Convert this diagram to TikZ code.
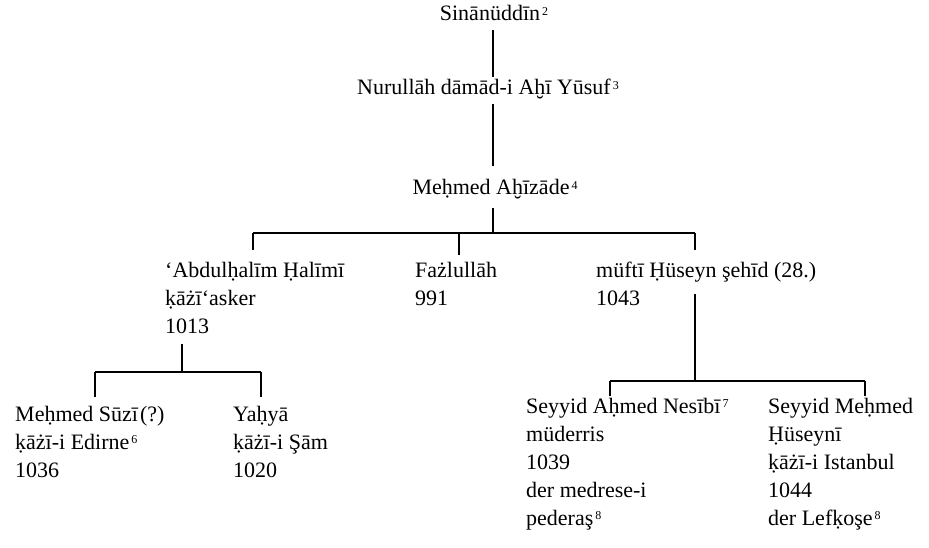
\documentclass[tikz,border=0pt]{standalone}
\usepackage{fontspec}
\setmainfont{Liberation Serif}
\newcommand\fnm[1]{\kern2pt\raisebox{5.5pt}{\fontsize{12}{12}\selectfont #1}}
\newcommand\fst{\rule{0pt}{16pt}}
\tikzset{
  person/.style={anchor=north west, inner sep=0pt, align=left, font=\fontsize{22}{28}\selectfont},
  head/.style={anchor=base, inner sep=0pt, font=\fontsize{22}{28}\selectfont},
  link/.style={line width=1.1pt, black}
}
\begin{document}
\begin{tikzpicture}[x=1pt,y=-1pt]
\useasboundingbox (0,0) rectangle (929,548);
% top chain
\node[head] (sin) at (494,21) {Sinānüddīn\fnm{2}};
\node[head] (nur) at (488,95) {Nurullāh dāmād-i Aḫī Yūsuf\fnm{3}};
\node[head] (meh) at (495,195) {Meḥmed Aḫīzāde\fnm{4}};
\coordinate (c0) at (493,0);
\coordinate (j1) at (493,233);
\draw[link, shorten <=9pt, shorten >=2pt] (sin.south -| c0) -- (nur.north -| c0);
\draw[link, shorten <=4pt, shorten >=14pt] (nur.south -| c0) -- (meh.north -| c0);
\draw[link, shorten <=8pt] (meh.south -| c0) -- (j1);
% second generation
\node[person] (abd) at (165,261) {\fst‘Abdulḥalīm Ḥalīmī\\ḳāżī‘asker\\1013};
\node[person] (faz) at (415,261) {\fst Fażlullāh\\991};
\node[person] (muf) at (596,261) {\fst müftī Ḥüseyn şehīd (28.)\\1043};
\coordinate (bL) at (253,233);
\coordinate (bM) at (459,233);
\coordinate (bR) at (695,233);
\draw[link] (bL) -- (bR);
\draw[link, shorten >=11pt] (bL) -- (bL |- abd.north);
\draw[link, shorten >=6pt] (bM) -- (bM |- faz.north);
\draw[link, shorten >=11pt] (bR) -- (bR |- muf.north);
% children of Abdulhalim
\coordinate (x2) at (182,0);
\coordinate (j2) at (182,372);
\coordinate (dL) at (95,372);
\coordinate (dR) at (261,372);
\node[person] (suz) at (15,405) {\fst Meḥmed Sūzī\kern2pt(?)\\ḳāżī-i Edirne\fnm{6}\\1036};
\node[person] (yah) at (233,405) {\fst Yaḥyā\\ḳāżī-i Şām\\1020};
\draw[link, shorten <=10pt] (abd.south -| x2) -- (j2);
\draw[link] (dL) -- (dR);
\draw[link, shorten >=8pt] (dL) -- (dL |- suz.north);
\draw[link, shorten >=8pt] (dR) -- (dR |- yah.north);
% children of Huseyn
\coordinate (x3) at (695,0);
\coordinate (j3) at (695,381);
\coordinate (eL) at (610,381);
\coordinate (eR) at (865,381);
\node[person] (ahm) at (526,397) {\fst Seyyid Aḥmed Nesībī\fnm{7}\\müderris\\1039\\der medrese-i\\pederaş\fnm{8}};
\node[person] (hus) at (768,397) {\fst Seyyid Meḥmed\\Ḥüseynī\\ḳāżī-i Istanbul\\1044\\der Lefḳoşe\fnm{8}};
\draw[link, shorten <=33pt] (muf.north -| x3) -- (j3);
\draw[link] (eL) -- (eR);
\draw[link, shorten >=1pt] (eL) -- (eL |- ahm.north);
\draw[link, shorten >=1pt] (eR) -- (eR |- hus.north);
\end{tikzpicture}
\end{document}
